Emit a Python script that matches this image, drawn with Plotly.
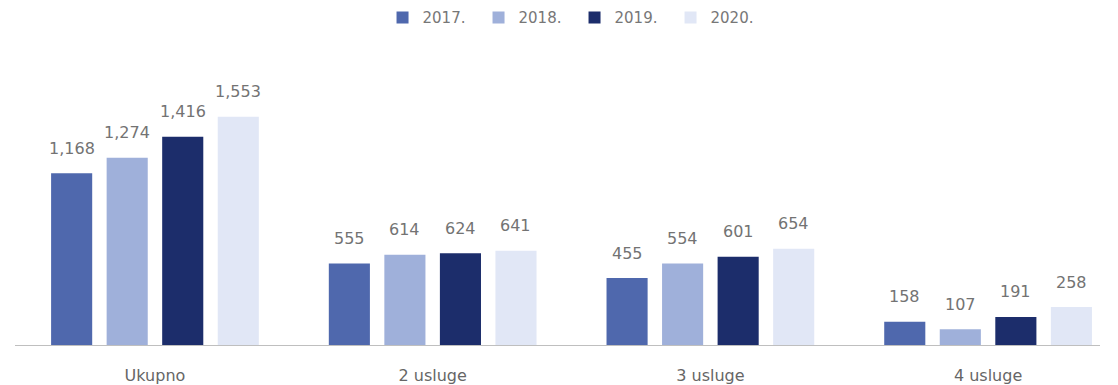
import plotly.graph_objects as go

categories = ["Ukupno", "2 usluge", "3 usluge", "4 usluge"]
years = ["2017.", "2018.", "2019.", "2020."]
v2017 = [1168, 555, 455, 158]
v2018 = [1274, 614, 554, 107]
v2019 = [1416, 624, 601, 191]
v2020 = [1553, 641, 654, 258]

colors = ["#4f68ad", "#9fb0da", "#1c2d6b", "#e1e7f6"]
series = [v2017, v2018, v2019, v2020]

FONT = "DejaVu Sans"
PX_PER_CAT = 277.7     # pixel width of one category slot
SLOT = 0.2             # bar slot width in category units

fig = go.Figure()
for i, (name, vals, col) in enumerate(zip(years, series, colors)):
    fig.add_trace(go.Bar(
        name=name, x=categories, y=vals,
        marker=dict(color=col, line=dict(width=0)),
    ))
    # value labels sit well above the bars in the reference
    for c, v in zip(categories, vals):
        fig.add_annotation(
            x=c, y=v, xref="x", yref="y", showarrow=False,
            xshift=(i - 1.5) * SLOT * PX_PER_CAT, yshift=25, yanchor="middle",
            text=f"{v:,}", font=dict(size=16, color="#737373", family=FONT),
        )

fig.update_layout(
    width=1118, height=385,
    margin=dict(l=7, r=26, t=52, b=48),
    paper_bgcolor="white", plot_bgcolor="white",
    barmode="group", bargap=0.2, bargroupgap=0.26,
    font=dict(family=FONT, color="#666666"),
    legend=dict(orientation="h", xref="container", x=0.335, xanchor="left",
                yref="container", y=0.975, yanchor="middle",
                font=dict(size=15, color="#777777"),
                entrywidth=51, entrywidthmode="pixels", itemwidth=30),
    showlegend=True,
)
fig.update_xaxes(type="category", range=[-0.504, 3.403],
                 tickfont=dict(size=16, color="#666666", family=FONT),
                 ticklabelstandoff=16,
                 showline=True, linecolor="#bfbfbf", linewidth=1,
                 showgrid=False, ticks="")
fig.update_yaxes(range=[0, 1939], visible=False, showgrid=False)

fig.write_html("out.html")
